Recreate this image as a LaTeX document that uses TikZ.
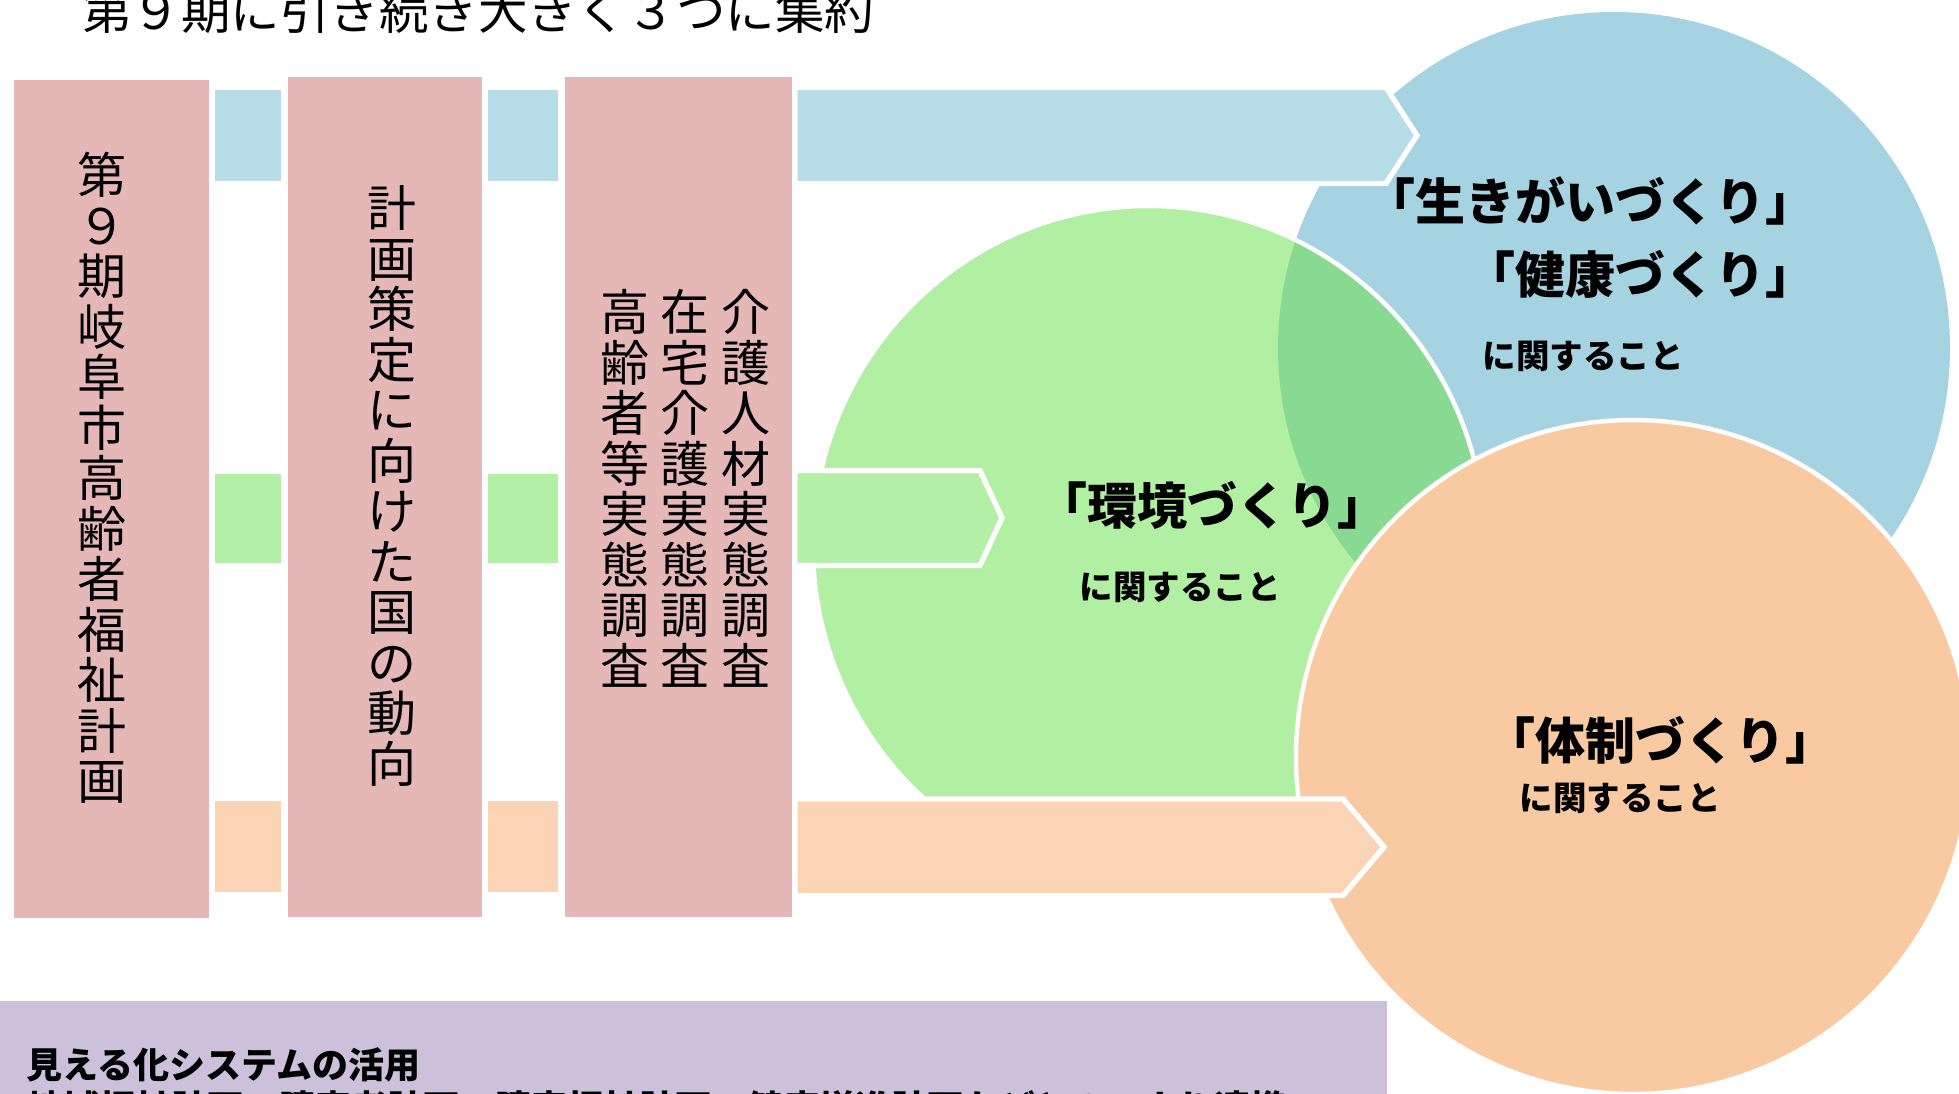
\documentclass[tikz,border=0pt]{standalone}
\usepackage{fontspec}
\setmainfont{Noto Sans CJK JP}
\definecolor{pinkbox}{HTML}{E5B8B7}
\definecolor{bluesq}{HTML}{B7DDE8}
\definecolor{bluecirc}{HTML}{A6D3E1}
\definecolor{greensq}{HTML}{B3F0A6}
\definecolor{greencirc}{HTML}{B1F0A2}
\definecolor{overlapgr}{HTML}{88DA93}
\definecolor{orangesq}{HTML}{FBD3B5}
\definecolor{orangecirc}{HTML}{F9C9A1}
\definecolor{purplebox}{HTML}{CCC0DA}
\newcommand\vstrut{\rule[-0.12em]{0pt}{1em}}
\tikzset{
  vtext/.style={font=\fontsize{49}{50.5}\selectfont, align=center, inner sep=0pt, anchor=north},
  bigjp/.style={font=\bfseries\fontsize{50}{50}\selectfont, inner sep=0pt, anchor=base},
  smalljp/.style={font=\bfseries\fontsize{33.5}{33.5}\selectfont, inner sep=0pt, anchor=base},
  arrowshape/.style={draw=white, line width=5.3pt, line join=miter},
  ringline/.style={draw=white, line width=4.5pt},
}
\begin{document}
\begin{tikzpicture}[x=1pt,y=-1pt]
\useasboundingbox (0,0) rectangle (1959,1094);
\clip (0,0) rectangle (1959,1094);
% circles
\fill[bluecirc] (1614,348) circle (336pt);
\fill[greencirc] (1149,546) ellipse [x radius=336pt, y radius=340pt];
\begin{scope}
  \clip (1614,348) circle (336pt);
  \fill[overlapgr] (1149,546) ellipse [x radius=336pt, y radius=340pt];
\end{scope}
\path[ringline] (1149,546) ellipse [x radius=336pt, y radius=340pt];
\path[ringline, fill=orangecirc] (1633,757) circle (337pt);
% arrows
\path[arrowshape, fill=bluesq] (795,87.5) -- (1386,87.5) -- (1417,135.5) -- (1386,183.5) -- (795,183.5) -- cycle;
\path[arrowshape, fill=greensq] (795,470.5) -- (980,470.5) -- (1002,518) -- (980,565.5) -- (795,565.5) -- cycle;
\path[arrowshape, fill=orangesq] (795,799) -- (1343,799) -- (1384,847) -- (1343,895.5) -- (795,895.5) -- cycle;
% small squares
\fill[bluesq] (215,90) rectangle (281,181);
\fill[bluesq] (488,90) rectangle (558,181);
\fill[greensq] (215,474) rectangle (281,563);
\fill[greensq] (488,474) rectangle (558,563);
\fill[orangesq] (215,801) rectangle (281,892);
\fill[orangesq] (488,801) rectangle (558,892);
% pink boxes
\fill[pinkbox] (14,80) rectangle (209,918);
\fill[pinkbox] (288,77) rectangle (482,917);
\fill[pinkbox] (565,77) rectangle (792,917);
% purple box
\fill[purplebox] (0,1001) rectangle (1387,1100);
% title
\node[font=\fontsize{49.5}{49.5}\selectfont, anchor=base west, inner sep=0pt] (title) at (82,30) {第９期に引き続き大きく３つに集約};
% vertical texts
\node[vtext] (v1) at (102,150.5) {\vstrut 第\\９\\期\\岐\\阜\\市\\高\\齢\\者\\福\\祉\\計\\画};
\node[vtext] (v2) at (392,183.5) {\vstrut 計\\画\\策\\定\\に\\向\\け\\た\\国\\の\\動\\向};
\node[vtext] (v3a) at (746,287.5) {\vstrut 介\\護\\人\\材\\実\\態\\調\\査};
\node[vtext] (v3b) at (685,287.5) {\vstrut 在\\宅\\介\\護\\実\\態\\調\\査};
\node[vtext] (v3c) at (625,287.5) {\vstrut 高\\齢\\者\\等\\実\\態\\調\\査};
% circle texts
\node[bigjp] (ikigai) at (1590,220) {「生きがいづくり」};
\node[bigjp] (kenko) at (1640,293) {「健康づくり」};
\node[smalljp] (kb) at (1583,368) {に関すること};
\node[bigjp] (kankyo) at (1212,524.5) {「環境づくり」};
\node[smalljp] (kg) at (1180,599) {に関すること};
\node[bigjp] (taisei) at (1660,759.5) {「体制づくり」};
\node[smalljp] (ko) at (1620,810.5) {に関すること};
% purple texts
\node[font=\bfseries\fontsize{36}{36}\selectfont, anchor=base west, inner sep=0pt] (mieru) at (26,1078) {見える化システムの活用};
\node[font=\bfseries\fontsize{36}{36}\selectfont, anchor=base west, inner sep=0pt] (renkei) at (27,1121) {地域福祉計画、障害者計画、障害福祉計画、健康増進計画などとの、より連携};
\end{tikzpicture}
\end{document}
